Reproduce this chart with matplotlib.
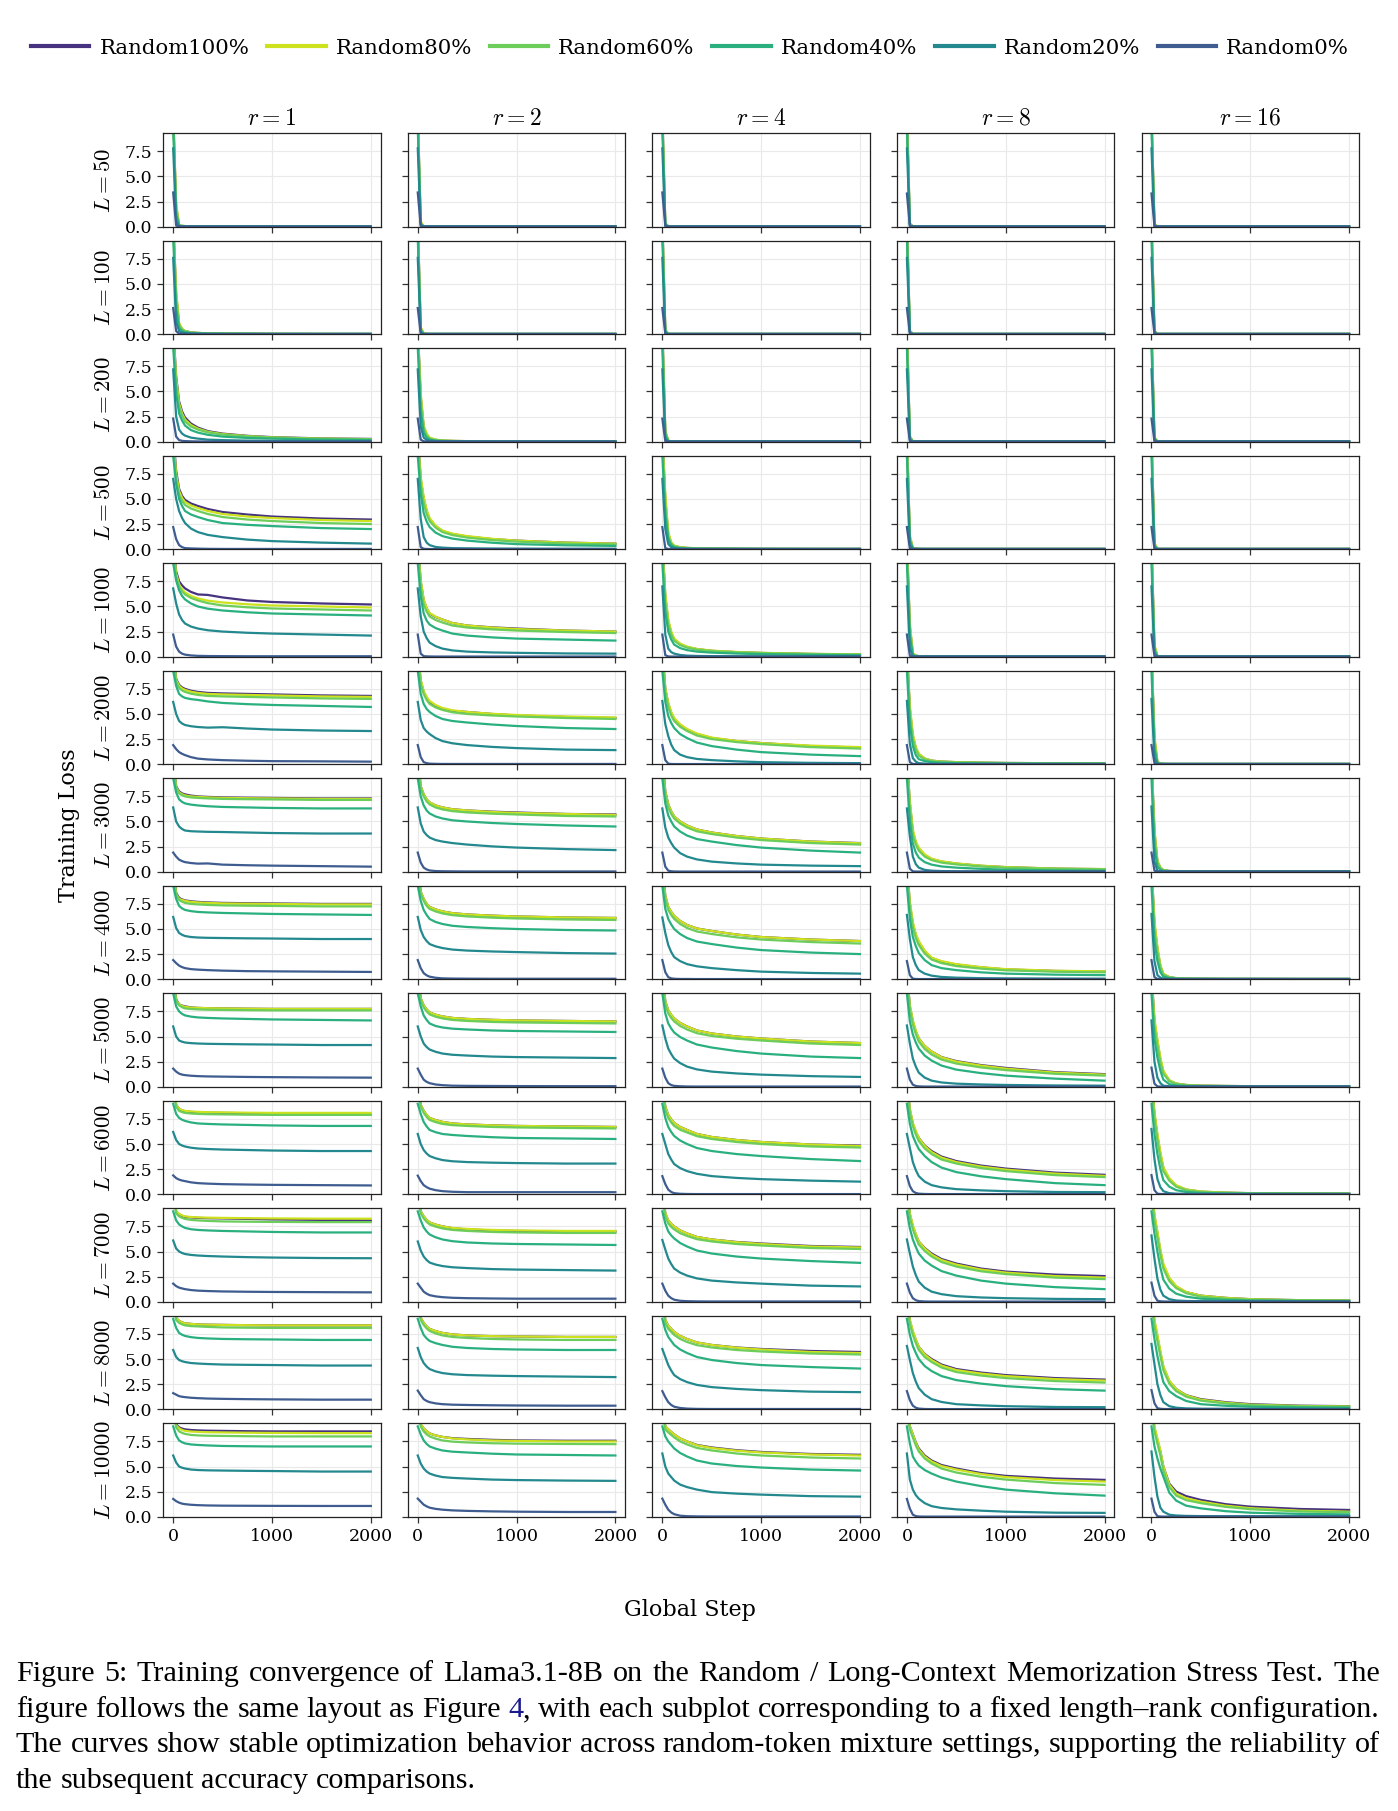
import matplotlib
matplotlib.use("Agg")
import matplotlib.pyplot as plt
from matplotlib.lines import Line2D
from matplotlib.ticker import FormatStrFormatter
from matplotlib.font_manager import FontProperties

plt.rcParams["font.family"] = ["DejaVu Serif"]
plt.rcParams["mathtext.fontset"] = "cm"

STEPS = [0, 30, 60, 90, 120, 180, 250, 350, 500, 750, 1000, 1500, 2000]
LENGTHS = [50, 100, 200, 500, 1000, 2000, 3000, 4000, 5000, 6000, 7000, 8000, 10000]
RANKS = [1, 2, 4, 8, 16]
SERIES = ["Random100%", "Random80%", "Random60%", "Random40%", "Random20%", "Random0%"]
COLORS = ["#46327e", "#cde11d", "#6ccd5a", "#2ab07f", "#23898e", "#3e5c8f"]
X_TICKS = [0, 1000, 2000]
Y_TICKS = [0.0, 2.5, 5.0, 7.5]

# each series: 13 rows (L), each row 5 curves (r = 1, 2, 4, 8, 16), values at STEPS
LOSS_R100 = [
    [[11.5, 2.0, 0.1, 0.07, 0.05, 0.04, 0.03, 0.02, 0.02, 0.02, 0.02, 0.02, 0.02],
     [11.5, 0.4, 0.03, 0.02, 0.02, 0.02, 0.02, 0.02, 0.02, 0.02, 0.02, 0.02, 0.02],
     [11.5, 0.3, 0.03, 0.02, 0.02, 0.02, 0.02, 0.02, 0.02, 0.02, 0.02, 0.02, 0.02],
     [11.5, 0.3, 0.02, 0.02, 0.02, 0.02, 0.02, 0.02, 0.02, 0.02, 0.02, 0.02, 0.02],
     [11.5, 0.2, 0.02, 0.02, 0.02, 0.02, 0.02, 0.02, 0.02, 0.02, 0.02, 0.02, 0.02]],
    [[11.5, 4.0, 1.0, 0.5, 0.3, 0.18, 0.12, 0.08, 0.06, 0.04, 0.03, 0.02, 0.02],
     [11.5, 0.6, 0.05, 0.03, 0.02, 0.02, 0.02, 0.02, 0.02, 0.02, 0.02, 0.02, 0.02],
     [11.5, 0.4, 0.03, 0.02, 0.02, 0.02, 0.02, 0.02, 0.02, 0.02, 0.02, 0.02, 0.02],
     [11.5, 0.3, 0.02, 0.02, 0.02, 0.02, 0.02, 0.02, 0.02, 0.02, 0.02, 0.02, 0.02],
     [11.5, 0.3, 0.02, 0.02, 0.02, 0.02, 0.02, 0.02, 0.02, 0.02, 0.02, 0.02, 0.02]],
    [[11.5, 6.5, 4.0, 3.0, 2.4, 1.8, 1.4, 1.05, 0.8, 0.58, 0.45, 0.32, 0.27],
     [11.5, 4.5, 1.5, 0.7, 0.35, 0.18, 0.1, 0.07, 0.05, 0.04, 0.03, 0.02, 0.02],
     [11.5, 1.0, 0.08, 0.04, 0.03, 0.02, 0.02, 0.02, 0.02, 0.02, 0.02, 0.02, 0.02],
     [11.5, 0.5, 0.03, 0.02, 0.02, 0.02, 0.02, 0.02, 0.02, 0.02, 0.02, 0.02, 0.02],
     [11.5, 0.4, 0.02, 0.02, 0.02, 0.02, 0.02, 0.02, 0.02, 0.02, 0.02, 0.02, 0.02]],
    [[11.5, 7.8, 6.0, 5.3, 4.9, 4.55, 4.3, 4.0, 3.7, 3.45, 3.25, 3.05, 2.95],
     [11.5, 7.0, 5.0, 3.8, 3.0, 2.3, 1.8, 1.5, 1.25, 1.0, 0.85, 0.65, 0.55],
     [11.5, 5.0, 1.5, 0.6, 0.3, 0.18, 0.12, 0.08, 0.06, 0.04, 0.03, 0.02, 0.02],
     [11.5, 1.2, 0.1, 0.05, 0.03, 0.02, 0.02, 0.02, 0.02, 0.02, 0.02, 0.02, 0.02],
     [11.5, 0.5, 0.03, 0.02, 0.02, 0.02, 0.02, 0.02, 0.02, 0.02, 0.02, 0.02, 0.02]],
    [[11.5, 8.5, 7.5, 7.1, 6.8, 6.45, 6.2, 6.15, 5.9, 5.6, 5.45, 5.3, 5.2],
     [11.5, 7.5, 5.6, 4.8, 4.3, 3.95, 3.7, 3.35, 3.1, 2.92, 2.8, 2.6, 2.5],
     [11.5, 6.0, 3.5, 2.4, 1.7, 1.25, 0.95, 0.75, 0.58, 0.45, 0.37, 0.27, 0.22],
     [11.5, 3.0, 0.3, 0.1, 0.05, 0.03, 0.03, 0.02, 0.02, 0.02, 0.02, 0.02, 0.02],
     [11.5, 1.0, 0.05, 0.03, 0.02, 0.02, 0.02, 0.02, 0.02, 0.02, 0.02, 0.02, 0.02]],
    [[11.5, 8.5, 7.9, 7.65, 7.5, 7.32, 7.2, 7.1, 7.05, 7.0, 6.95, 6.85, 6.8],
     [11.5, 8.3, 7.2, 6.6, 6.2, 5.8, 5.5, 5.3, 5.2, 5.0, 4.85, 4.7, 4.6],
     [11.5, 7.5, 6.0, 5.1, 4.5, 3.9, 3.45, 3.0, 2.6, 2.3, 2.1, 1.8, 1.65],
     [11.5, 5.5, 2.8, 1.6, 1.0, 0.55, 0.35, 0.26, 0.2, 0.15, 0.12, 0.09, 0.08],
     [11.5, 2.5, 0.2, 0.06, 0.03, 0.02, 0.02, 0.02, 0.02, 0.02, 0.02, 0.02, 0.02]],
    [[11.5, 8.5, 8.0, 7.8, 7.7, 7.58, 7.5, 7.45, 7.4, 7.37, 7.35, 7.3, 7.3],
     [11.5, 8.5, 7.7, 7.2, 6.9, 6.6, 6.4, 6.22, 6.1, 5.98, 5.9, 5.75, 5.7],
     [11.5, 8.0, 6.7, 6.0, 5.5, 5.0, 4.6, 4.2, 3.9, 3.55, 3.3, 3.0, 2.85],
     [11.5, 6.8, 4.0, 2.9, 2.3, 1.65, 1.25, 1.0, 0.8, 0.58, 0.45, 0.3, 0.25],
     [11.5, 4.0, 1.0, 0.4, 0.15, 0.07, 0.05, 0.04, 0.03, 0.02, 0.02, 0.02, 0.02]],
    [[11.5, 8.6, 8.1, 7.95, 7.85, 7.76, 7.7, 7.65, 7.6, 7.57, 7.55, 7.5, 7.5],
     [11.5, 8.7, 8.0, 7.5, 7.2, 6.95, 6.75, 6.58, 6.45, 6.33, 6.25, 6.15, 6.1],
     [11.5, 8.3, 7.2, 6.7, 6.3, 5.8, 5.4, 5.05, 4.8, 4.45, 4.2, 3.95, 3.8],
     [11.5, 7.5, 5.5, 4.4, 3.7, 2.8, 2.1, 1.75, 1.45, 1.17, 0.97, 0.82, 0.76],
     [11.5, 5.5, 3.0, 1.3, 0.5, 0.2, 0.1, 0.06, 0.04, 0.03, 0.03, 0.02, 0.02]],
    [[11.5, 8.7, 8.2, 8.08, 8.0, 7.9, 7.85, 7.82, 7.8, 7.77, 7.75, 7.75, 7.75],
     [11.5, 8.8, 8.1, 7.7, 7.4, 7.17, 7.0, 6.85, 6.75, 6.66, 6.6, 6.55, 6.5],
     [11.5, 8.5, 7.6, 7.15, 6.8, 6.35, 6.0, 5.6, 5.3, 5.0, 4.8, 4.5, 4.35],
     [11.5, 8.0, 6.5, 5.5, 4.8, 4.05, 3.5, 2.95, 2.55, 2.15, 1.87, 1.45, 1.25],
     [11.5, 6.5, 4.5, 2.7, 1.5, 0.6, 0.3, 0.17, 0.1, 0.07, 0.05, 0.04, 0.04]],
    [[11.5, 8.9, 8.5, 8.35, 8.25, 8.2, 8.15, 8.12, 8.1, 8.07, 8.05, 8.0, 8.0],
     [11.5, 8.9, 8.3, 7.9, 7.6, 7.38, 7.2, 7.05, 6.95, 6.86, 6.8, 6.75, 6.7],
     [11.5, 8.7, 7.9, 7.45, 7.1, 6.7, 6.4, 6.0, 5.7, 5.4, 5.2, 4.95, 4.85],
     [11.5, 8.4, 7.0, 6.2, 5.6, 4.85, 4.3, 3.75, 3.3, 2.85, 2.55, 2.15, 1.93],
     [11.5, 8.0, 5.8, 4.0, 2.6, 1.5, 0.85, 0.45, 0.25, 0.15, 0.1, 0.07, 0.06]],
    [[11.5, 9.0, 8.7, 8.55, 8.45, 8.4, 8.35, 8.32, 8.3, 8.25, 8.2, 8.15, 8.1],
     [11.5, 9.0, 8.5, 8.15, 7.9, 7.68, 7.5, 7.33, 7.2, 7.1, 7.05, 7.0, 7.0],
     [11.5, 8.8, 8.1, 7.75, 7.5, 7.1, 6.8, 6.45, 6.2, 5.95, 5.8, 5.55, 5.45],
     [11.5, 8.7, 7.5, 6.7, 6.0, 5.35, 4.8, 4.25, 3.8, 3.3, 3.0, 2.7, 2.55],
     [11.5, 8.5, 6.8, 5.0, 3.6, 2.3, 1.5, 0.95, 0.6, 0.38, 0.25, 0.15, 0.12]],
    [[11.5, 9.1, 8.8, 8.65, 8.55, 8.5, 8.45, 8.42, 8.4, 8.37, 8.35, 8.35, 8.35],
     [11.5, 9.1, 8.6, 8.25, 8.0, 7.78, 7.6, 7.45, 7.35, 7.28, 7.25, 7.2, 7.2],
     [11.5, 8.9, 8.3, 8.0, 7.7, 7.3, 7.0, 6.65, 6.4, 6.15, 6.0, 5.8, 5.7],
     [11.5, 8.8, 7.7, 6.9, 6.2, 5.5, 5.0, 4.45, 4.0, 3.65, 3.4, 3.1, 2.95],
     [11.5, 8.7, 7.2, 5.6, 4.2, 2.8, 2.0, 1.4, 1.0, 0.7, 0.5, 0.35, 0.3]],
    [[11.5, 9.2, 8.9, 8.78, 8.7, 8.64, 8.6, 8.57, 8.55, 8.52, 8.5, 8.5, 8.5],
     [11.5, 9.2, 8.8, 8.52, 8.3, 8.1, 7.95, 7.83, 7.75, 7.66, 7.6, 7.57, 7.57],
     [11.5, 9.0, 8.7, 8.45, 8.2, 7.8, 7.5, 7.15, 6.9, 6.63, 6.45, 6.25, 6.17],
     [11.5, 9.0, 8.2, 7.4, 6.8, 6.1, 5.6, 5.15, 4.8, 4.35, 4.07, 3.8, 3.67],
     [11.5, 8.8, 7.6, 6.5, 5.0, 3.3, 2.5, 2.05, 1.67, 1.25, 1.0, 0.77, 0.67]],
]

LOSS_R80 = [
    [[11.2, 2.3, 0.12, 0.08, 0.05, 0.04, 0.03, 0.02, 0.02, 0.02, 0.02, 0.02, 0.02],
     [11.2, 0.5, 0.03, 0.02, 0.02, 0.02, 0.02, 0.02, 0.02, 0.02, 0.02, 0.02, 0.02],
     [11.2, 0.35, 0.03, 0.02, 0.02, 0.02, 0.02, 0.02, 0.02, 0.02, 0.02, 0.02, 0.02],
     [11.2, 0.3, 0.02, 0.02, 0.02, 0.02, 0.02, 0.02, 0.02, 0.02, 0.02, 0.02, 0.02],
     [11.2, 0.25, 0.02, 0.02, 0.02, 0.02, 0.02, 0.02, 0.02, 0.02, 0.02, 0.02, 0.02]],
    [[11.2, 4.3, 1.1, 0.55, 0.3, 0.18, 0.12, 0.08, 0.06, 0.04, 0.03, 0.02, 0.02],
     [11.2, 0.7, 0.05, 0.03, 0.02, 0.02, 0.02, 0.02, 0.02, 0.02, 0.02, 0.02, 0.02],
     [11.2, 0.45, 0.03, 0.02, 0.02, 0.02, 0.02, 0.02, 0.02, 0.02, 0.02, 0.02, 0.02],
     [11.2, 0.35, 0.02, 0.02, 0.02, 0.02, 0.02, 0.02, 0.02, 0.02, 0.02, 0.02, 0.02],
     [11.2, 0.3, 0.02, 0.02, 0.02, 0.02, 0.02, 0.02, 0.02, 0.02, 0.02, 0.02, 0.02]],
    [[11.2, 6.3, 3.8, 2.8, 2.2, 1.65, 1.3, 0.98, 0.75, 0.55, 0.42, 0.3, 0.25],
     [11.2, 4.8, 1.6, 0.8, 0.4, 0.2, 0.12, 0.08, 0.05, 0.04, 0.03, 0.02, 0.02],
     [11.2, 1.1, 0.09, 0.04, 0.03, 0.02, 0.02, 0.02, 0.02, 0.02, 0.02, 0.02, 0.02],
     [11.2, 0.55, 0.03, 0.02, 0.02, 0.02, 0.02, 0.02, 0.02, 0.02, 0.02, 0.02, 0.02],
     [11.2, 0.45, 0.02, 0.02, 0.02, 0.02, 0.02, 0.02, 0.02, 0.02, 0.02, 0.02, 0.02]],
    [[11.2, 7.5, 5.8, 5.1, 4.7, 4.35, 4.1, 3.8, 3.5, 3.25, 3.1, 2.9, 2.8],
     [11.2, 7.2, 5.2, 3.9, 3.1, 2.35, 1.85, 1.55, 1.3, 1.03, 0.85, 0.65, 0.55],
     [11.2, 5.5, 1.7, 0.7, 0.35, 0.2, 0.13, 0.09, 0.06, 0.04, 0.03, 0.02, 0.02],
     [11.2, 1.4, 0.12, 0.05, 0.03, 0.02, 0.02, 0.02, 0.02, 0.02, 0.02, 0.02, 0.02],
     [11.2, 0.6, 0.03, 0.02, 0.02, 0.02, 0.02, 0.02, 0.02, 0.02, 0.02, 0.02, 0.02]],
    [[11.2, 8.3, 7.2, 6.7, 6.4, 6.05, 5.8, 5.58, 5.4, 5.22, 5.1, 5.0, 4.9],
     [11.2, 7.6, 5.7, 4.85, 4.35, 3.98, 3.7, 3.35, 3.1, 2.9, 2.75, 2.6, 2.5],
     [11.2, 6.3, 3.7, 2.5, 1.8, 1.3, 1.0, 0.77, 0.6, 0.47, 0.38, 0.28, 0.23],
     [11.2, 3.3, 0.35, 0.1, 0.05, 0.03, 0.03, 0.02, 0.02, 0.02, 0.02, 0.02, 0.02],
     [11.2, 1.2, 0.06, 0.03, 0.02, 0.02, 0.02, 0.02, 0.02, 0.02, 0.02, 0.02, 0.02]],
    [[11.2, 8.4, 7.8, 7.55, 7.4, 7.22, 7.1, 7.0, 6.95, 6.9, 6.85, 6.75, 6.7],
     [11.2, 8.4, 7.3, 6.7, 6.3, 5.9, 5.6, 5.37, 5.2, 5.02, 4.9, 4.75, 4.65],
     [11.2, 7.6, 6.1, 5.2, 4.6, 3.98, 3.5, 3.05, 2.65, 2.32, 2.1, 1.85, 1.7],
     [11.2, 5.8, 3.0, 1.7, 1.05, 0.57, 0.35, 0.26, 0.2, 0.15, 0.12, 0.09, 0.08],
     [11.2, 2.8, 0.25, 0.07, 0.03, 0.02, 0.02, 0.02, 0.02, 0.02, 0.02, 0.02, 0.02]],
    [[11.2, 8.4, 7.9, 7.72, 7.6, 7.5, 7.45, 7.4, 7.35, 7.32, 7.3, 7.25, 7.25],
     [11.2, 8.5, 7.7, 7.2, 6.9, 6.6, 6.4, 6.22, 6.1, 5.95, 5.85, 5.75, 5.65],
     [11.2, 8.0, 6.7, 6.0, 5.5, 5.0, 4.6, 4.2, 3.9, 3.55, 3.3, 3.0, 2.83],
     [11.2, 7.0, 4.2, 3.0, 2.4, 1.72, 1.3, 1.03, 0.82, 0.6, 0.46, 0.31, 0.26],
     [11.2, 4.2, 1.1, 0.42, 0.15, 0.07, 0.05, 0.04, 0.03, 0.02, 0.02, 0.02, 0.02]],
    [[11.2, 8.5, 8.0, 7.9, 7.8, 7.7, 7.65, 7.6, 7.55, 7.52, 7.5, 7.45, 7.45],
     [11.2, 8.7, 8.0, 7.5, 7.2, 6.95, 6.75, 6.58, 6.45, 6.33, 6.25, 6.15, 6.1],
     [11.2, 8.3, 7.2, 6.7, 6.3, 5.8, 5.4, 5.05, 4.8, 4.45, 4.2, 3.95, 3.8],
     [11.2, 7.7, 5.7, 4.5, 3.8, 2.85, 2.15, 1.8, 1.5, 1.2, 1.0, 0.84, 0.78],
     [11.2, 5.8, 3.2, 1.4, 0.55, 0.2, 0.1, 0.06, 0.04, 0.03, 0.03, 0.02, 0.02]],
    [[11.2, 8.6, 8.2, 8.05, 7.95, 7.88, 7.85, 7.82, 7.8, 7.77, 7.75, 7.75, 7.75],
     [11.2, 8.8, 8.1, 7.7, 7.4, 7.17, 7.0, 6.85, 6.75, 6.66, 6.6, 6.55, 6.5],
     [11.2, 8.5, 7.6, 7.15, 6.8, 6.35, 6.0, 5.6, 5.3, 5.0, 4.8, 4.5, 4.35],
     [11.2, 8.1, 6.6, 5.6, 4.8, 4.05, 3.5, 2.93, 2.5, 2.1, 1.8, 1.4, 1.2],
     [11.2, 6.8, 4.7, 2.9, 1.6, 0.65, 0.32, 0.17, 0.1, 0.07, 0.05, 0.04, 0.04]],
    [[11.2, 8.9, 8.5, 8.38, 8.3, 8.24, 8.2, 8.17, 8.15, 8.12, 8.1, 8.1, 8.1],
     [11.2, 8.9, 8.3, 7.9, 7.6, 7.38, 7.2, 7.05, 6.95, 6.86, 6.8, 6.75, 6.7],
     [11.2, 8.7, 7.9, 7.45, 7.1, 6.7, 6.4, 6.0, 5.7, 5.4, 5.2, 4.95, 4.8],
     [11.2, 8.5, 7.1, 6.3, 5.6, 4.8, 4.2, 3.65, 3.2, 2.75, 2.45, 2.05, 1.82],
     [11.2, 8.2, 6.0, 4.2, 2.7, 1.6, 0.9, 0.48, 0.27, 0.16, 0.1, 0.07, 0.06]],
    [[11.2, 9.0, 8.75, 8.6, 8.5, 8.44, 8.4, 8.37, 8.35, 8.32, 8.3, 8.27, 8.27],
     [11.2, 9.0, 8.5, 8.15, 7.9, 7.68, 7.5, 7.35, 7.25, 7.15, 7.1, 7.05, 7.05],
     [11.2, 8.8, 8.1, 7.75, 7.5, 7.1, 6.8, 6.45, 6.2, 5.93, 5.75, 5.5, 5.4],
     [11.2, 8.8, 7.6, 6.75, 6.0, 5.3, 4.7, 4.15, 3.7, 3.2, 2.9, 2.55, 2.4],
     [11.2, 8.7, 7.0, 5.2, 3.8, 2.4, 1.55, 0.97, 0.6, 0.38, 0.25, 0.15, 0.12]],
    [[11.2, 9.1, 8.8, 8.65, 8.55, 8.5, 8.45, 8.42, 8.4, 8.37, 8.35, 8.35, 8.35],
     [11.2, 9.1, 8.6, 8.25, 8.0, 7.78, 7.6, 7.45, 7.35, 7.28, 7.25, 7.2, 7.2],
     [11.2, 8.9, 8.3, 8.0, 7.7, 7.3, 7.0, 6.65, 6.4, 6.13, 5.95, 5.7, 5.6],
     [11.2, 8.9, 7.8, 6.95, 6.2, 5.45, 4.9, 4.35, 3.9, 3.55, 3.3, 3.0, 2.85],
     [11.2, 8.9, 7.4, 5.8, 4.3, 2.85, 2.0, 1.38, 0.95, 0.65, 0.45, 0.32, 0.27]],
    [[11.2, 9.1, 8.8, 8.65, 8.55, 8.49, 8.45, 8.42, 8.4, 8.37, 8.35, 8.33, 8.33],
     [11.2, 9.2, 8.8, 8.52, 8.3, 8.1, 7.95, 7.8, 7.7, 7.6, 7.55, 7.5, 7.5],
     [11.2, 9.0, 8.7, 8.45, 8.2, 7.8, 7.5, 7.12, 6.85, 6.58, 6.4, 6.2, 6.1],
     [11.2, 9.0, 8.2, 7.35, 6.7, 6.0, 5.5, 5.05, 4.7, 4.25, 3.95, 3.65, 3.5],
     [11.2, 9.0, 7.8, 6.6, 5.0, 3.2, 2.3, 1.85, 1.5, 1.1, 0.85, 0.6, 0.5]],
]

LOSS_R60 = [
    [[10.8, 1.8, 0.1, 0.07, 0.05, 0.04, 0.03, 0.02, 0.02, 0.02, 0.02, 0.02, 0.02],
     [10.8, 0.35, 0.03, 0.02, 0.02, 0.02, 0.02, 0.02, 0.02, 0.02, 0.02, 0.02, 0.02],
     [10.8, 0.3, 0.02, 0.02, 0.02, 0.02, 0.02, 0.02, 0.02, 0.02, 0.02, 0.02, 0.02],
     [10.8, 0.25, 0.02, 0.02, 0.02, 0.02, 0.02, 0.02, 0.02, 0.02, 0.02, 0.02, 0.02],
     [10.8, 0.2, 0.02, 0.02, 0.02, 0.02, 0.02, 0.02, 0.02, 0.02, 0.02, 0.02, 0.02]],
    [[10.8, 3.5, 0.9, 0.45, 0.25, 0.15, 0.1, 0.07, 0.05, 0.04, 0.03, 0.02, 0.02],
     [10.8, 0.5, 0.04, 0.03, 0.02, 0.02, 0.02, 0.02, 0.02, 0.02, 0.02, 0.02, 0.02],
     [10.8, 0.35, 0.03, 0.02, 0.02, 0.02, 0.02, 0.02, 0.02, 0.02, 0.02, 0.02, 0.02],
     [10.8, 0.3, 0.02, 0.02, 0.02, 0.02, 0.02, 0.02, 0.02, 0.02, 0.02, 0.02, 0.02],
     [10.8, 0.25, 0.02, 0.02, 0.02, 0.02, 0.02, 0.02, 0.02, 0.02, 0.02, 0.02, 0.02]],
    [[10.8, 5.8, 3.5, 2.6, 2.0, 1.5, 1.2, 0.92, 0.7, 0.52, 0.4, 0.28, 0.23],
     [10.8, 4.0, 1.3, 0.6, 0.3, 0.15, 0.1, 0.06, 0.04, 0.03, 0.02, 0.02, 0.02],
     [10.8, 0.9, 0.07, 0.04, 0.03, 0.02, 0.02, 0.02, 0.02, 0.02, 0.02, 0.02, 0.02],
     [10.8, 0.45, 0.03, 0.02, 0.02, 0.02, 0.02, 0.02, 0.02, 0.02, 0.02, 0.02, 0.02],
     [10.8, 0.35, 0.02, 0.02, 0.02, 0.02, 0.02, 0.02, 0.02, 0.02, 0.02, 0.02, 0.02]],
    [[10.8, 7.0, 5.4, 4.8, 4.4, 4.05, 3.8, 3.5, 3.2, 2.95, 2.8, 2.6, 2.5],
     [10.8, 6.5, 4.6, 3.5, 2.8, 2.15, 1.7, 1.4, 1.15, 0.9, 0.75, 0.55, 0.47],
     [10.8, 4.5, 1.3, 0.55, 0.3, 0.15, 0.1, 0.07, 0.05, 0.04, 0.03, 0.02, 0.02],
     [10.8, 1.1, 0.1, 0.05, 0.03, 0.02, 0.02, 0.02, 0.02, 0.02, 0.02, 0.02, 0.02],
     [10.8, 0.45, 0.03, 0.02, 0.02, 0.02, 0.02, 0.02, 0.02, 0.02, 0.02, 0.02, 0.02]],
    [[10.8, 8.0, 7.0, 6.5, 6.2, 5.85, 5.6, 5.33, 5.1, 4.92, 4.8, 4.7, 4.6],
     [10.8, 7.0, 5.2, 4.5, 4.0, 3.65, 3.4, 3.1, 2.9, 2.72, 2.6, 2.45, 2.35],
     [10.8, 5.5, 3.2, 2.2, 1.6, 1.15, 0.9, 0.7, 0.55, 0.43, 0.35, 0.26, 0.21],
     [10.8, 2.7, 0.25, 0.08, 0.05, 0.03, 0.03, 0.02, 0.02, 0.02, 0.02, 0.02, 0.02],
     [10.8, 0.9, 0.05, 0.03, 0.02, 0.02, 0.02, 0.02, 0.02, 0.02, 0.02, 0.02, 0.02]],
    [[10.8, 8.2, 7.6, 7.35, 7.2, 7.02, 6.9, 6.8, 6.75, 6.7, 6.65, 6.55, 6.5],
     [10.8, 8.0, 7.0, 6.4, 6.0, 5.65, 5.4, 5.17, 5.0, 4.85, 4.75, 4.6, 4.5],
     [10.8, 7.2, 5.7, 4.85, 4.3, 3.72, 3.3, 2.85, 2.5, 2.2, 2.0, 1.7, 1.55],
     [10.8, 5.0, 2.5, 1.45, 0.85, 0.48, 0.3, 0.22, 0.17, 0.13, 0.1, 0.08, 0.07],
     [10.8, 2.2, 0.15, 0.05, 0.03, 0.02, 0.02, 0.02, 0.02, 0.02, 0.02, 0.02, 0.02]],
    [[10.8, 8.3, 7.8, 7.62, 7.5, 7.4, 7.35, 7.3, 7.25, 7.22, 7.2, 7.15, 7.15],
     [10.8, 8.3, 7.5, 7.0, 6.7, 6.4, 6.2, 6.03, 5.9, 5.78, 5.7, 5.55, 5.5],
     [10.8, 7.7, 6.4, 5.75, 5.3, 4.8, 4.4, 4.02, 3.75, 3.4, 3.15, 2.85, 2.7],
     [10.8, 6.3, 3.7, 2.7, 2.1, 1.5, 1.15, 0.9, 0.72, 0.52, 0.4, 0.28, 0.23],
     [10.8, 3.5, 0.9, 0.35, 0.12, 0.06, 0.04, 0.03, 0.03, 0.02, 0.02, 0.02, 0.02]],
    [[10.8, 8.4, 7.9, 7.72, 7.6, 7.5, 7.45, 7.4, 7.35, 7.32, 7.3, 7.25, 7.25],
     [10.8, 8.5, 7.8, 7.3, 7.0, 6.75, 6.55, 6.38, 6.25, 6.13, 6.05, 5.95, 5.9],
     [10.8, 8.0, 6.9, 6.4, 6.0, 5.5, 5.1, 4.75, 4.5, 4.17, 3.95, 3.7, 3.55],
     [10.8, 7.2, 5.2, 4.1, 3.4, 2.55, 1.95, 1.6, 1.3, 1.05, 0.88, 0.74, 0.68],
     [10.8, 5.0, 2.7, 1.15, 0.45, 0.18, 0.09, 0.05, 0.04, 0.03, 0.03, 0.02, 0.02]],
    [[10.8, 8.5, 8.1, 7.92, 7.8, 7.74, 7.7, 7.67, 7.65, 7.62, 7.6, 7.6, 7.6],
     [10.8, 8.6, 7.9, 7.5, 7.2, 6.97, 6.8, 6.65, 6.55, 6.45, 6.4, 6.35, 6.3],
     [10.8, 8.2, 7.3, 6.85, 6.5, 6.05, 5.7, 5.33, 5.05, 4.78, 4.6, 4.3, 4.15],
     [10.8, 7.7, 6.2, 5.25, 4.5, 3.75, 3.2, 2.7, 2.3, 1.92, 1.65, 1.28, 1.1],
     [10.8, 6.0, 4.1, 2.4, 1.3, 0.55, 0.27, 0.15, 0.09, 0.06, 0.05, 0.04, 0.04]],
    [[10.8, 8.7, 8.3, 8.18, 8.1, 8.04, 8.0, 7.97, 7.95, 7.92, 7.9, 7.9, 7.9],
     [10.8, 8.7, 8.1, 7.7, 7.4, 7.18, 7.0, 6.88, 6.8, 6.7, 6.65, 6.6, 6.55],
     [10.8, 8.4, 7.6, 7.15, 6.8, 6.42, 6.15, 5.78, 5.5, 5.2, 5.0, 4.75, 4.65],
     [10.8, 8.1, 6.8, 5.95, 5.3, 4.55, 4.0, 3.45, 3.05, 2.6, 2.3, 1.9, 1.7],
     [10.8, 7.6, 5.4, 3.6, 2.3, 1.35, 0.75, 0.4, 0.22, 0.13, 0.09, 0.06, 0.05]],
    [[10.8, 8.8, 8.5, 8.35, 8.25, 8.15, 8.1, 8.05, 8.0, 7.97, 7.95, 7.93, 7.93],
     [10.8, 8.8, 8.3, 7.95, 7.7, 7.48, 7.3, 7.15, 7.05, 6.95, 6.9, 6.85, 6.85],
     [10.8, 8.5, 7.8, 7.45, 7.2, 6.82, 6.55, 6.23, 6.0, 5.75, 5.6, 5.35, 5.25],
     [10.8, 8.4, 7.2, 6.4, 5.7, 5.05, 4.5, 3.95, 3.5, 3.03, 2.75, 2.4, 2.25],
     [10.8, 8.1, 6.4, 4.7, 3.3, 2.05, 1.35, 0.85, 0.5, 0.3, 0.2, 0.13, 0.1]],
    [[10.8, 8.9, 8.6, 8.45, 8.35, 8.28, 8.25, 8.2, 8.15, 8.12, 8.1, 8.1, 8.1],
     [10.8, 8.9, 8.4, 8.05, 7.8, 7.55, 7.35, 7.2, 7.1, 7.0, 6.95, 6.9, 6.9],
     [10.8, 8.6, 8.0, 7.7, 7.4, 7.0, 6.7, 6.38, 6.15, 5.9, 5.75, 5.55, 5.45],
     [10.8, 8.5, 7.4, 6.6, 5.9, 5.2, 4.7, 4.15, 3.7, 3.35, 3.1, 2.8, 2.65],
     [10.8, 8.3, 6.8, 5.3, 3.9, 2.55, 1.8, 1.25, 0.85, 0.57, 0.4, 0.28, 0.24]],
    [[10.8, 8.9, 8.5, 8.35, 8.25, 8.15, 8.1, 8.07, 8.05, 8.02, 8.0, 8.0, 8.0],
     [10.8, 9.0, 8.5, 8.2, 8.0, 7.78, 7.6, 7.48, 7.4, 7.32, 7.28, 7.25, 7.23],
     [10.8, 8.7, 8.4, 8.15, 7.9, 7.5, 7.2, 6.85, 6.6, 6.3, 6.1, 5.9, 5.8],
     [10.8, 8.7, 7.9, 7.1, 6.5, 5.8, 5.3, 4.8, 4.4, 3.98, 3.7, 3.35, 3.17],
     [10.8, 8.5, 7.3, 6.1, 4.6, 2.95, 2.1, 1.65, 1.35, 0.98, 0.75, 0.52, 0.45]],
]

LOSS_R40 = [
    [[9.8, 1.2, 0.08, 0.05, 0.04, 0.03, 0.02, 0.02, 0.02, 0.02, 0.02, 0.02, 0.02],
     [9.8, 0.25, 0.02, 0.02, 0.02, 0.02, 0.02, 0.02, 0.02, 0.02, 0.02, 0.02, 0.02],
     [9.8, 0.2, 0.02, 0.02, 0.02, 0.02, 0.02, 0.02, 0.02, 0.02, 0.02, 0.02, 0.02],
     [9.8, 0.15, 0.02, 0.02, 0.02, 0.02, 0.02, 0.02, 0.02, 0.02, 0.02, 0.02, 0.02],
     [9.8, 0.1, 0.02, 0.02, 0.02, 0.02, 0.02, 0.02, 0.02, 0.02, 0.02, 0.02, 0.02]],
    [[9.6, 2.5, 0.6, 0.32, 0.2, 0.12, 0.08, 0.05, 0.04, 0.03, 0.02, 0.02, 0.02],
     [9.6, 0.35, 0.03, 0.02, 0.02, 0.02, 0.02, 0.02, 0.02, 0.02, 0.02, 0.02, 0.02],
     [9.6, 0.25, 0.02, 0.02, 0.02, 0.02, 0.02, 0.02, 0.02, 0.02, 0.02, 0.02, 0.02],
     [9.6, 0.2, 0.02, 0.02, 0.02, 0.02, 0.02, 0.02, 0.02, 0.02, 0.02, 0.02, 0.02],
     [9.6, 0.15, 0.02, 0.02, 0.02, 0.02, 0.02, 0.02, 0.02, 0.02, 0.02, 0.02, 0.02]],
    [[9.4, 4.8, 2.8, 2.1, 1.6, 1.15, 0.9, 0.68, 0.5, 0.37, 0.3, 0.2, 0.17],
     [9.4, 3.0, 0.9, 0.4, 0.2, 0.1, 0.06, 0.04, 0.03, 0.02, 0.02, 0.02, 0.02],
     [9.4, 0.6, 0.05, 0.03, 0.02, 0.02, 0.02, 0.02, 0.02, 0.02, 0.02, 0.02, 0.02],
     [9.4, 0.3, 0.02, 0.02, 0.02, 0.02, 0.02, 0.02, 0.02, 0.02, 0.02, 0.02, 0.02],
     [9.4, 0.25, 0.02, 0.02, 0.02, 0.02, 0.02, 0.02, 0.02, 0.02, 0.02, 0.02, 0.02]],
    [[9.3, 6.5, 5.0, 4.3, 3.8, 3.45, 3.2, 2.9, 2.6, 2.42, 2.3, 2.1, 2.0],
     [9.3, 5.5, 3.6, 2.75, 2.2, 1.65, 1.3, 1.05, 0.85, 0.64, 0.5, 0.38, 0.32],
     [9.3, 3.5, 1.0, 0.4, 0.2, 0.1, 0.07, 0.05, 0.04, 0.03, 0.02, 0.02, 0.02],
     [9.3, 0.8, 0.06, 0.03, 0.02, 0.02, 0.02, 0.02, 0.02, 0.02, 0.02, 0.02, 0.02],
     [9.3, 0.3, 0.02, 0.02, 0.02, 0.02, 0.02, 0.02, 0.02, 0.02, 0.02, 0.02, 0.02]],
    [[9.3, 7.6, 6.6, 6.05, 5.7, 5.3, 5.0, 4.78, 4.6, 4.42, 4.3, 4.2, 4.1],
     [9.3, 6.0, 4.3, 3.6, 3.2, 2.85, 2.6, 2.3, 2.1, 1.92, 1.8, 1.7, 1.6],
     [9.3, 4.5, 2.5, 1.7, 1.2, 0.85, 0.65, 0.5, 0.4, 0.31, 0.25, 0.18, 0.15],
     [9.3, 2.0, 0.15, 0.05, 0.03, 0.02, 0.02, 0.02, 0.02, 0.02, 0.02, 0.02, 0.02],
     [9.3, 0.6, 0.03, 0.02, 0.02, 0.02, 0.02, 0.02, 0.02, 0.02, 0.02, 0.02, 0.02]],
    [[9.3, 7.8, 7.0, 6.75, 6.6, 6.48, 6.4, 6.25, 6.1, 5.98, 5.9, 5.8, 5.7],
     [9.3, 7.0, 6.0, 5.5, 5.2, 4.8, 4.5, 4.3, 4.15, 3.95, 3.8, 3.6, 3.5],
     [9.3, 6.2, 4.8, 4.1, 3.6, 3.0, 2.6, 2.15, 1.8, 1.45, 1.2, 0.95, 0.8],
     [9.3, 4.0, 1.8, 0.9, 0.5, 0.3, 0.2, 0.13, 0.1, 0.08, 0.06, 0.05, 0.04],
     [9.3, 1.5, 0.1, 0.04, 0.02, 0.02, 0.02, 0.02, 0.02, 0.02, 0.02, 0.02, 0.02]],
    [[9.3, 7.9, 7.2, 6.95, 6.8, 6.68, 6.6, 6.52, 6.45, 6.4, 6.35, 6.3, 6.3],
     [9.3, 7.5, 6.6, 6.1, 5.8, 5.5, 5.3, 5.12, 5.0, 4.85, 4.75, 4.6, 4.5],
     [9.3, 6.8, 5.6, 5.0, 4.5, 4.0, 3.6, 3.25, 3.0, 2.65, 2.4, 2.1, 1.9],
     [9.3, 5.0, 2.8, 1.9, 1.4, 0.95, 0.7, 0.52, 0.4, 0.28, 0.2, 0.13, 0.1],
     [9.3, 2.5, 0.5, 0.2, 0.08, 0.04, 0.03, 0.02, 0.02, 0.02, 0.02, 0.02, 0.02]],
    [[9.3, 8.0, 7.3, 7.05, 6.9, 6.78, 6.7, 6.65, 6.6, 6.55, 6.5, 6.45, 6.4],
     [9.3, 7.8, 6.9, 6.4, 6.0, 5.7, 5.5, 5.32, 5.2, 5.08, 5.0, 4.9, 4.85],
     [9.3, 7.0, 6.0, 5.45, 5.0, 4.5, 4.1, 3.75, 3.5, 3.15, 2.9, 2.65, 2.5],
     [9.3, 6.0, 4.2, 3.3, 2.6, 1.9, 1.4, 1.1, 0.9, 0.68, 0.55, 0.45, 0.4],
     [9.3, 3.8, 1.8, 0.7, 0.25, 0.1, 0.05, 0.03, 0.03, 0.02, 0.02, 0.02, 0.02]],
    [[9.3, 8.0, 7.5, 7.25, 7.1, 6.98, 6.9, 6.85, 6.8, 6.75, 6.7, 6.65, 6.6],
     [9.3, 8.0, 7.1, 6.65, 6.3, 6.05, 5.9, 5.78, 5.7, 5.6, 5.55, 5.5, 5.45],
     [9.3, 7.3, 6.3, 5.8, 5.4, 4.95, 4.6, 4.2, 3.9, 3.55, 3.3, 3.0, 2.85],
     [9.3, 6.5, 5.2, 4.4, 3.8, 3.1, 2.6, 2.1, 1.7, 1.35, 1.1, 0.8, 0.6],
     [9.3, 4.8, 2.9, 1.6, 0.7, 0.25, 0.12, 0.07, 0.05, 0.04, 0.03, 0.02, 0.02]],
    [[9.0, 8.0, 7.6, 7.42, 7.3, 7.15, 7.05, 7.0, 6.95, 6.9, 6.85, 6.8, 6.8],
     [9.0, 8.0, 7.2, 6.75, 6.4, 6.18, 6.0, 5.9, 5.8, 5.68, 5.6, 5.55, 5.5],
     [9.0, 7.6, 6.7, 6.2, 5.8, 5.35, 5.0, 4.6, 4.3, 4.0, 3.8, 3.5, 3.3],
     [9.0, 7.0, 5.8, 5.1, 4.5, 3.8, 3.2, 2.65, 2.2, 1.78, 1.5, 1.1, 0.9],
     [9.0, 6.0, 4.0, 2.5, 1.4, 0.75, 0.4, 0.22, 0.12, 0.07, 0.05, 0.04, 0.03]],
    [[9.0, 8.1, 7.7, 7.5, 7.35, 7.22, 7.15, 7.1, 7.05, 7.0, 6.95, 6.9, 6.9],
     [9.0, 8.1, 7.4, 7.0, 6.7, 6.42, 6.2, 6.03, 5.9, 5.8, 5.75, 5.7, 5.65],
     [9.0, 7.8, 7.0, 6.6, 6.3, 5.85, 5.5, 5.1, 4.8, 4.5, 4.3, 4.05, 3.87],
     [9.0, 7.3, 6.2, 5.45, 4.8, 4.1, 3.6, 3.05, 2.6, 2.1, 1.8, 1.45, 1.25],
     [9.0, 6.8, 5.0, 3.4, 2.2, 1.3, 0.8, 0.5, 0.3, 0.18, 0.12, 0.08, 0.07]],
    [[9.0, 8.1, 7.6, 7.42, 7.3, 7.18, 7.1, 7.05, 7.0, 6.97, 6.95, 6.9, 6.9],
     [9.0, 8.1, 7.4, 7.05, 6.8, 6.58, 6.4, 6.22, 6.1, 6.0, 5.95, 5.9, 5.9],
     [9.0, 7.9, 7.2, 6.8, 6.4, 5.95, 5.6, 5.2, 4.9, 4.6, 4.4, 4.2, 4.05],
     [9.0, 7.4, 6.3, 5.6, 5.0, 4.3, 3.8, 3.3, 2.9, 2.55, 2.3, 2.0, 1.85],
     [9.0, 7.0, 5.3, 3.9, 2.7, 1.8, 1.3, 0.82, 0.5, 0.34, 0.25, 0.18, 0.15]],
    [[9.0, 8.1, 7.6, 7.42, 7.3, 7.2, 7.15, 7.1, 7.05, 7.02, 7.0, 7.0, 7.0],
     [9.0, 8.2, 7.6, 7.25, 7.0, 6.78, 6.6, 6.48, 6.4, 6.28, 6.2, 6.15, 6.1],
     [9.0, 8.0, 7.5, 7.15, 6.8, 6.35, 6.0, 5.6, 5.3, 5.05, 4.9, 4.7, 4.6],
     [9.0, 7.3, 6.0, 5.5, 5.1, 4.65, 4.3, 3.9, 3.5, 3.05, 2.7, 2.33, 2.1],
     [9.0, 7.0, 5.8, 4.8, 4.0, 2.4, 1.6, 1.1, 0.83, 0.55, 0.4, 0.28, 0.23]],
]

LOSS_R20 = [
    [[7.8, 0.6, 0.05, 0.04, 0.03, 0.02, 0.02, 0.02, 0.02, 0.02, 0.02, 0.02, 0.02],
     [7.8, 0.1, 0.02, 0.02, 0.02, 0.02, 0.02, 0.02, 0.02, 0.02, 0.02, 0.02, 0.02],
     [7.8, 0.1, 0.02, 0.02, 0.02, 0.02, 0.02, 0.02, 0.02, 0.02, 0.02, 0.02, 0.02],
     [7.8, 0.08, 0.02, 0.02, 0.02, 0.02, 0.02, 0.02, 0.02, 0.02, 0.02, 0.02, 0.02],
     [7.8, 0.06, 0.02, 0.02, 0.02, 0.02, 0.02, 0.02, 0.02, 0.02, 0.02, 0.02, 0.02]],
    [[7.6, 1.2, 0.3, 0.15, 0.1, 0.06, 0.04, 0.03, 0.02, 0.02, 0.02, 0.02, 0.02],
     [7.6, 0.15, 0.02, 0.02, 0.02, 0.02, 0.02, 0.02, 0.02, 0.02, 0.02, 0.02, 0.02],
     [7.6, 0.12, 0.02, 0.02, 0.02, 0.02, 0.02, 0.02, 0.02, 0.02, 0.02, 0.02, 0.02],
     [7.6, 0.1, 0.02, 0.02, 0.02, 0.02, 0.02, 0.02, 0.02, 0.02, 0.02, 0.02, 0.02],
     [7.6, 0.08, 0.02, 0.02, 0.02, 0.02, 0.02, 0.02, 0.02, 0.02, 0.02, 0.02, 0.02]],
    [[7.2, 2.5, 1.2, 0.8, 0.6, 0.4, 0.3, 0.2, 0.15, 0.1, 0.08, 0.06, 0.05],
     [7.2, 1.5, 0.4, 0.18, 0.1, 0.05, 0.03, 0.02, 0.02, 0.01, 0.01, 0.01, 0.01],
     [7.2, 0.3, 0.03, 0.02, 0.02, 0.02, 0.02, 0.02, 0.02, 0.02, 0.02, 0.02, 0.02],
     [7.2, 0.15, 0.02, 0.02, 0.02, 0.02, 0.02, 0.02, 0.02, 0.02, 0.02, 0.02, 0.02],
     [7.2, 0.12, 0.02, 0.02, 0.02, 0.02, 0.02, 0.02, 0.02, 0.02, 0.02, 0.02, 0.02]],
    [[7.0, 5.0, 3.8, 3.1, 2.6, 2.05, 1.7, 1.42, 1.2, 0.95, 0.8, 0.65, 0.55],
     [7.0, 3.0, 1.2, 0.65, 0.4, 0.22, 0.15, 0.1, 0.08, 0.06, 0.05, 0.04, 0.04],
     [7.0, 2.0, 0.5, 0.2, 0.1, 0.05, 0.03, 0.02, 0.02, 0.02, 0.02, 0.02, 0.02],
     [7.0, 0.4, 0.03, 0.02, 0.02, 0.02, 0.02, 0.02, 0.02, 0.02, 0.02, 0.02, 0.02],
     [7.0, 0.15, 0.02, 0.02, 0.02, 0.02, 0.02, 0.02, 0.02, 0.02, 0.02, 0.02, 0.02]],
    [[6.8, 5.3, 4.2, 3.65, 3.3, 3.0, 2.8, 2.63, 2.5, 2.38, 2.3, 2.2, 2.1],
     [6.8, 4.0, 2.5, 1.85, 1.4, 1.05, 0.8, 0.62, 0.5, 0.42, 0.38, 0.32, 0.3],
     [7.0, 2.2, 0.8, 0.45, 0.3, 0.17, 0.1, 0.07, 0.05, 0.04, 0.03, 0.03, 0.03],
     [7.0, 0.8, 0.05, 0.03, 0.02, 0.02, 0.02, 0.02, 0.02, 0.02, 0.02, 0.02, 0.02],
     [7.0, 0.3, 0.02, 0.02, 0.02, 0.02, 0.02, 0.02, 0.02, 0.02, 0.02, 0.02, 0.02]],
    [[6.2, 5.0, 4.3, 4.05, 3.9, 3.78, 3.7, 3.64, 3.68, 3.55, 3.45, 3.35, 3.3],
     [6.2, 4.4, 3.6, 3.25, 3.0, 2.6, 2.3, 2.08, 1.9, 1.72, 1.6, 1.45, 1.4],
     [6.3, 4.0, 2.8, 1.95, 1.4, 0.95, 0.7, 0.52, 0.4, 0.28, 0.2, 0.13, 0.1],
     [6.3, 2.0, 0.6, 0.25, 0.1, 0.05, 0.03, 0.02, 0.02, 0.02, 0.02, 0.02, 0.02],
     [6.5, 0.6, 0.03, 0.02, 0.02, 0.02, 0.02, 0.02, 0.02, 0.02, 0.02, 0.02, 0.02]],
    [[6.4, 5.0, 4.5, 4.25, 4.1, 4.03, 4.0, 3.97, 3.95, 3.9, 3.85, 3.8, 3.8],
     [6.4, 4.8, 4.0, 3.65, 3.4, 3.15, 3.0, 2.85, 2.7, 2.52, 2.4, 2.25, 2.15],
     [6.3, 4.4, 3.4, 2.85, 2.4, 1.85, 1.5, 1.22, 1.0, 0.82, 0.7, 0.6, 0.55],
     [6.3, 3.5, 1.5, 0.75, 0.4, 0.18, 0.1, 0.06, 0.04, 0.03, 0.03, 0.03, 0.03],
     [6.5, 1.0, 0.1, 0.04, 0.02, 0.02, 0.02, 0.02, 0.02, 0.02, 0.02, 0.02, 0.02]],
    [[6.2, 5.1, 4.6, 4.42, 4.3, 4.2, 4.15, 4.12, 4.1, 4.07, 4.05, 4.0, 4.0],
     [6.2, 4.9, 4.2, 3.8, 3.5, 3.27, 3.1, 2.95, 2.85, 2.76, 2.7, 2.6, 2.55],
     [6.15, 4.6, 3.4, 2.7, 2.2, 1.8, 1.5, 1.28, 1.1, 0.9, 0.75, 0.62, 0.55],
     [6.4, 4.0, 2.2, 1.4, 0.9, 0.55, 0.35, 0.22, 0.15, 0.1, 0.08, 0.06, 0.05],
     [6.5, 1.8, 0.4, 0.15, 0.05, 0.03, 0.02, 0.02, 0.02, 0.02, 0.02, 0.02, 0.02]],
    [[6.0, 5.0, 4.6, 4.48, 4.4, 4.34, 4.3, 4.27, 4.25, 4.22, 4.2, 4.15, 4.15],
     [6.0, 5.0, 4.3, 3.95, 3.7, 3.48, 3.3, 3.18, 3.1, 3.0, 2.95, 2.9, 2.85],
     [6.1, 4.8, 3.8, 3.25, 2.8, 2.35, 2.0, 1.72, 1.5, 1.32, 1.2, 1.05, 0.97],
     [6.1, 4.3, 2.8, 2.0, 1.4, 0.9, 0.6, 0.42, 0.3, 0.22, 0.17, 0.12, 0.1],
     [6.6, 2.5, 0.9, 0.35, 0.1, 0.04, 0.03, 0.02, 0.02, 0.02, 0.02, 0.02, 0.02]],
    [[6.2, 5.4, 5.0, 4.85, 4.75, 4.63, 4.55, 4.5, 4.45, 4.4, 4.35, 4.3, 4.3],
     [6.0, 5.0, 4.4, 4.05, 3.8, 3.58, 3.4, 3.28, 3.2, 3.14, 3.1, 3.05, 3.05],
     [6.0, 5.0, 4.0, 3.45, 3.0, 2.6, 2.3, 2.03, 1.8, 1.62, 1.5, 1.35, 1.25],
     [6.0, 4.6, 3.2, 2.4, 1.8, 1.25, 0.9, 0.68, 0.5, 0.38, 0.3, 0.22, 0.2],
     [6.5, 3.5, 1.5, 0.7, 0.3, 0.1, 0.05, 0.03, 0.02, 0.02, 0.02, 0.02, 0.02]],
    [[6.1, 5.3, 5.0, 4.85, 4.75, 4.66, 4.6, 4.55, 4.5, 4.44, 4.4, 4.35, 4.33],
     [6.0, 5.1, 4.5, 4.15, 3.9, 3.7, 3.55, 3.43, 3.35, 3.25, 3.2, 3.15, 3.1],
     [6.15, 5.2, 4.3, 3.75, 3.3, 2.9, 2.6, 2.32, 2.1, 1.92, 1.8, 1.6, 1.52],
     [6.2, 4.8, 3.5, 2.65, 2.0, 1.4, 1.0, 0.75, 0.55, 0.42, 0.35, 0.28, 0.25],
     [6.6, 4.3, 2.3, 1.2, 0.6, 0.25, 0.12, 0.07, 0.05, 0.04, 0.03, 0.03, 0.03]],
    [[5.9, 5.2, 4.9, 4.78, 4.7, 4.6, 4.55, 4.5, 4.45, 4.42, 4.4, 4.35, 4.35],
     [6.1, 5.2, 4.6, 4.25, 4.0, 3.77, 3.6, 3.48, 3.4, 3.34, 3.3, 3.25, 3.2],
     [6.0, 5.2, 4.4, 3.85, 3.4, 3.0, 2.7, 2.42, 2.2, 2.02, 1.9, 1.75, 1.7],
     [6.3, 4.9, 3.6, 2.75, 2.1, 1.45, 1.0, 0.72, 0.5, 0.38, 0.3, 0.22, 0.2],
     [6.5, 4.5, 2.5, 1.4, 0.7, 0.3, 0.15, 0.08, 0.05, 0.04, 0.04, 0.04, 0.04]],
    [[6.1, 5.4, 5.0, 4.88, 4.8, 4.7, 4.65, 4.62, 4.6, 4.57, 4.55, 4.5, 4.5],
     [6.1, 5.3, 4.8, 4.5, 4.3, 4.1, 3.95, 3.87, 3.8, 3.7, 3.65, 3.6, 3.57],
     [6.3, 5.0, 4.3, 3.95, 3.6, 3.2, 2.95, 2.7, 2.45, 2.3, 2.2, 2.05, 2.0],
     [6.3, 3.7, 2.7, 2.15, 1.8, 1.35, 1.05, 0.87, 0.73, 0.6, 0.5, 0.4, 0.38],
     [6.5, 4.0, 2.0, 0.9, 0.5, 0.2, 0.12, 0.08, 0.06, 0.05, 0.05, 0.05, 0.05]],
]

LOSS_R0 = [
    [[3.4, 0.1, 0.02, 0.01, 0.01, 0.01, 0.01, 0.01, 0.01, 0.01, 0.01, 0.01, 0.01],
     [3.4, 0.05, 0.01, 0.01, 0.01, 0.01, 0.01, 0.01, 0.01, 0.01, 0.01, 0.01, 0.01],
     [3.4, 0.05, 0.01, 0.01, 0.01, 0.01, 0.01, 0.01, 0.01, 0.01, 0.01, 0.01, 0.01],
     [3.3, 0.04, 0.01, 0.01, 0.01, 0.01, 0.01, 0.01, 0.01, 0.01, 0.01, 0.01, 0.01],
     [3.3, 0.03, 0.01, 0.01, 0.01, 0.01, 0.01, 0.01, 0.01, 0.01, 0.01, 0.01, 0.01]],
    [[2.6, 0.3, 0.05, 0.03, 0.02, 0.01, 0.01, 0.01, 0.01, 0.01, 0.01, 0.01, 0.01],
     [2.6, 0.05, 0.01, 0.01, 0.01, 0.01, 0.01, 0.01, 0.01, 0.01, 0.01, 0.01, 0.01],
     [2.6, 0.04, 0.01, 0.01, 0.01, 0.01, 0.01, 0.01, 0.01, 0.01, 0.01, 0.01, 0.01],
     [2.6, 0.03, 0.01, 0.01, 0.01, 0.01, 0.01, 0.01, 0.01, 0.01, 0.01, 0.01, 0.01],
     [2.6, 0.03, 0.01, 0.01, 0.01, 0.01, 0.01, 0.01, 0.01, 0.01, 0.01, 0.01, 0.01]],
    [[2.3, 0.5, 0.15, 0.08, 0.05, 0.03, 0.02, 0.01, 0.01, 0.01, 0.01, 0.01, 0.01],
     [2.3, 0.2, 0.03, 0.02, 0.01, 0.01, 0.01, 0.01, 0.01, 0.01, 0.01, 0.01, 0.01],
     [2.3, 0.05, 0.01, 0.01, 0.01, 0.01, 0.01, 0.01, 0.01, 0.01, 0.01, 0.01, 0.01],
     [2.3, 0.04, 0.01, 0.01, 0.01, 0.01, 0.01, 0.01, 0.01, 0.01, 0.01, 0.01, 0.01],
     [2.3, 0.03, 0.01, 0.01, 0.01, 0.01, 0.01, 0.01, 0.01, 0.01, 0.01, 0.01, 0.01]],
    [[2.2, 1.0, 0.4, 0.2, 0.1, 0.07, 0.05, 0.03, 0.02, 0.02, 0.02, 0.02, 0.02],
     [2.2, 0.2, 0.03, 0.02, 0.01, 0.01, 0.01, 0.01, 0.01, 0.01, 0.01, 0.01, 0.01],
     [2.2, 0.1, 0.02, 0.01, 0.01, 0.01, 0.01, 0.01, 0.01, 0.01, 0.01, 0.01, 0.01],
     [2.2, 0.05, 0.01, 0.01, 0.01, 0.01, 0.01, 0.01, 0.01, 0.01, 0.01, 0.01, 0.01],
     [2.2, 0.04, 0.01, 0.01, 0.01, 0.01, 0.01, 0.01, 0.01, 0.01, 0.01, 0.01, 0.01]],
    [[2.2, 1.0, 0.5, 0.3, 0.2, 0.12, 0.08, 0.06, 0.05, 0.04, 0.04, 0.04, 0.04],
     [2.2, 0.3, 0.05, 0.03, 0.02, 0.01, 0.01, 0.01, 0.01, 0.01, 0.01, 0.01, 0.01],
     [2.2, 0.15, 0.02, 0.01, 0.01, 0.01, 0.01, 0.01, 0.01, 0.01, 0.01, 0.01, 0.01],
     [2.2, 0.08, 0.01, 0.01, 0.01, 0.01, 0.01, 0.01, 0.01, 0.01, 0.01, 0.01, 0.01],
     [2.2, 0.05, 0.01, 0.01, 0.01, 0.01, 0.01, 0.01, 0.01, 0.01, 0.01, 0.01, 0.01]],
    [[1.9, 1.5, 1.2, 1.03, 0.9, 0.7, 0.55, 0.47, 0.4, 0.34, 0.3, 0.28, 0.25],
     [1.9, 0.7, 0.2, 0.1, 0.05, 0.03, 0.02, 0.02, 0.02, 0.02, 0.02, 0.02, 0.02],
     [1.9, 0.4, 0.05, 0.02, 0.01, 0.01, 0.01, 0.01, 0.01, 0.01, 0.01, 0.01, 0.01],
     [1.9, 0.2, 0.02, 0.01, 0.01, 0.01, 0.01, 0.01, 0.01, 0.01, 0.01, 0.01, 0.01],
     [1.9, 0.1, 0.01, 0.01, 0.01, 0.01, 0.01, 0.01, 0.01, 0.01, 0.01, 0.01, 0.01]],
    [[1.9, 1.5, 1.2, 1.05, 0.95, 0.86, 0.8, 0.82, 0.7, 0.64, 0.6, 0.55, 0.5],
     [1.9, 0.9, 0.4, 0.22, 0.12, 0.06, 0.04, 0.03, 0.02, 0.02, 0.02, 0.02, 0.02],
     [1.9, 0.5, 0.1, 0.04, 0.02, 0.01, 0.01, 0.01, 0.01, 0.01, 0.01, 0.01, 0.01],
     [1.9, 0.3, 0.03, 0.01, 0.01, 0.01, 0.01, 0.01, 0.01, 0.01, 0.01, 0.01, 0.01],
     [1.9, 0.1, 0.01, 0.01, 0.01, 0.01, 0.01, 0.01, 0.01, 0.01, 0.01, 0.01, 0.01]],
    [[1.9, 1.6, 1.35, 1.2, 1.1, 1.0, 0.95, 0.9, 0.85, 0.8, 0.78, 0.75, 0.72],
     [1.9, 1.1, 0.6, 0.38, 0.25, 0.14, 0.08, 0.06, 0.05, 0.04, 0.04, 0.04, 0.04],
     [1.9, 0.7, 0.2, 0.08, 0.04, 0.02, 0.02, 0.01, 0.01, 0.01, 0.01, 0.01, 0.01],
     [1.8, 0.4, 0.05, 0.02, 0.01, 0.01, 0.01, 0.01, 0.01, 0.01, 0.01, 0.01, 0.01],
     [1.9, 0.2, 0.02, 0.01, 0.01, 0.01, 0.01, 0.01, 0.01, 0.01, 0.01, 0.01, 0.01]],
    [[1.8, 1.5, 1.3, 1.2, 1.15, 1.09, 1.05, 1.02, 1.0, 0.97, 0.95, 0.92, 0.9],
     [1.8, 1.2, 0.7, 0.48, 0.35, 0.22, 0.15, 0.1, 0.08, 0.07, 0.06, 0.05, 0.05],
     [1.8, 0.9, 0.35, 0.16, 0.08, 0.04, 0.02, 0.01, 0.01, 0.01, 0.01, 0.01, 0.01],
     [1.8, 0.7, 0.2, 0.07, 0.03, 0.01, 0.01, 0.01, 0.01, 0.01, 0.01, 0.01, 0.01],
     [1.9, 0.3, 0.03, 0.01, 0.01, 0.01, 0.01, 0.01, 0.01, 0.01, 0.01, 0.01, 0.01]],
    [[1.87, 1.6, 1.45, 1.36, 1.3, 1.18, 1.1, 1.05, 1.0, 0.96, 0.93, 0.9, 0.87],
     [1.85, 1.3, 0.9, 0.7, 0.55, 0.4, 0.3, 0.24, 0.2, 0.2, 0.2, 0.2, 0.2],
     [1.8, 1.0, 0.45, 0.22, 0.1, 0.04, 0.02, 0.01, 0.01, 0.01, 0.01, 0.01, 0.01],
     [1.8, 0.8, 0.3, 0.12, 0.05, 0.02, 0.01, 0.01, 0.01, 0.01, 0.01, 0.01, 0.01],
     [1.9, 0.4, 0.05, 0.02, 0.01, 0.01, 0.01, 0.01, 0.01, 0.01, 0.01, 0.01, 0.01]],
    [[1.8, 1.55, 1.4, 1.32, 1.25, 1.16, 1.1, 1.06, 1.02, 0.99, 0.97, 0.95, 0.93],
     [1.8, 1.4, 1.0, 0.8, 0.65, 0.53, 0.45, 0.39, 0.35, 0.32, 0.3, 0.3, 0.3],
     [1.8, 1.1, 0.6, 0.35, 0.2, 0.09, 0.05, 0.03, 0.02, 0.02, 0.02, 0.02, 0.02],
     [1.8, 0.9, 0.35, 0.15, 0.06, 0.02, 0.01, 0.01, 0.01, 0.01, 0.01, 0.01, 0.01],
     [1.9, 0.6, 0.1, 0.04, 0.02, 0.01, 0.01, 0.01, 0.01, 0.01, 0.01, 0.01, 0.01]],
    [[1.6, 1.45, 1.3, 1.24, 1.2, 1.14, 1.1, 1.06, 1.03, 1.0, 0.98, 0.95, 0.95],
     [1.85, 1.4, 1.0, 0.82, 0.7, 0.58, 0.5, 0.45, 0.42, 0.39, 0.37, 0.35, 0.35],
     [1.8, 1.2, 0.7, 0.42, 0.25, 0.12, 0.06, 0.03, 0.02, 0.02, 0.02, 0.02, 0.02],
     [1.8, 0.9, 0.35, 0.15, 0.06, 0.02, 0.01, 0.01, 0.01, 0.01, 0.01, 0.01, 0.01],
     [1.9, 0.6, 0.1, 0.04, 0.02, 0.01, 0.01, 0.01, 0.01, 0.01, 0.01, 0.01, 0.01]],
    [[1.77, 1.55, 1.4, 1.3, 1.25, 1.19, 1.15, 1.12, 1.1, 1.09, 1.08, 1.07, 1.07],
     [1.8, 1.5, 1.2, 1.03, 0.9, 0.78, 0.7, 0.63, 0.58, 0.53, 0.5, 0.47, 0.47],
     [1.8, 1.2, 0.7, 0.42, 0.25, 0.1, 0.05, 0.03, 0.02, 0.02, 0.02, 0.02, 0.02],
     [1.77, 0.8, 0.2, 0.06, 0.02, 0.01, 0.01, 0.01, 0.01, 0.01, 0.01, 0.01, 0.01],
     [1.8, 0.5, 0.05, 0.02, 0.01, 0.01, 0.01, 0.01, 0.01, 0.01, 0.01, 0.01, 0.01]],
]

ALL_LOSSES = [LOSS_R100, LOSS_R80, LOSS_R60, LOSS_R40, LOSS_R20, LOSS_R0]

CAPTION = [
    "Figure 5: Training convergence of Llama3.1-8B on the Random / Long-Context Memorization Stress Test. The",
    "figure follows the same layout as Figure 4, with each subplot corresponding to a fixed length\u2013rank configuration.",
    "The curves show stable optimization behavior across random-token mixture settings, supporting the reliability of",
    "the subsequent accuracy comparisons.",
]
LINK_WORD = "4,"

# ---------------------------------------------------------------- figure
W, H = 1398, 1811
fig = plt.figure(figsize=(W / 100, H / 100), dpi=100)
fig.patch.set_facecolor("white")

gs = fig.add_gridspec(len(LENGTHS), len(RANKS), left=163.3 / W, right=1359 / W,
                      top=1 - 133.3 / H, bottom=1 - 1516.7 / H, wspace=0.125, hspace=0.152)
axes = [[None] * len(RANKS) for _ in LENGTHS]
for i in range(len(LENGTHS)):
    for j in range(len(RANKS)):
        kw = {}
        if i > 0 or j > 0:
            kw = dict(sharex=axes[0][0], sharey=axes[0][0])
        axes[i][j] = fig.add_subplot(gs[i, j], **kw)

for i, L in enumerate(LENGTHS):
    for j, r in enumerate(RANKS):
        ax = axes[i][j]
        for k, loss in enumerate(ALL_LOSSES):
            ax.plot(STEPS, loss[i][j], color=COLORS[k], lw=1.6, solid_joinstyle="round")
        ax.set_ylim(0, 9.3)
        ax.set_xticks(X_TICKS)
        ax.set_yticks(Y_TICKS)
        ax.yaxis.set_major_formatter(FormatStrFormatter("%.1f"))
        ax.grid(True, color="#e9e9e9", lw=0.8)
        ax.set_axisbelow(True)
        for sp in ax.spines.values():
            sp.set_color("#222222")
            sp.set_linewidth(0.9)
        ax.tick_params(direction="out", length=4, width=0.9, color="#333333",
                       labelsize=12.5, pad=4)
        if j != 0:
            ax.tick_params(labelleft=False)
        if i != len(LENGTHS) - 1:
            ax.tick_params(labelbottom=False)
        if i == 0:
            ax.set_title(f"$r = {r}$", fontsize=17, pad=6)
        if j == 0:
            ax.set_ylabel(f"$L = {L}$", fontsize=16.5, labelpad=7)

axes[0][0].set_xlim(-100, 2100)

handles = [Line2D([0], [0], color=c, lw=3) for c in COLORS]
fig.legend(handles, SERIES, loc="center", bbox_to_anchor=(690 / W, 1 - 48.3 / H), ncol=6,
           frameon=False, fontsize=15.3, handlelength=2.75, handletextpad=0.47,
           columnspacing=0.84)

fig.text(69 / W, 1 - 825 / H, "Training Loss", rotation=90, ha="center", va="center", fontsize=16)
fig.text(690 / W, 1 - 1610 / H, "Global Step", ha="center", va="center", fontsize=16)

# ---------------------------------------------------------------- caption (justified, Times-like)
renderer = fig.canvas.get_renderer()


def cap_props(fs):
    return FontProperties(family=["Liberation Serif", "DejaVu Serif"], size=fs)


def text_width(s, fs):
    t = fig.text(0, 0, s, fontproperties=cap_props(fs))
    w = t.get_window_extent(renderer).width
    t.remove()
    return w


x_left, x_right = 16.0, 1380.0
target = x_right - x_left
base = 20.0
fs = base * target / text_width(CAPTION[1], base)
baselines = [1681, 1717, 1752.5, 1788]
space_nat = text_width("a a", fs) - text_width("aa", fs)

for li, line in enumerate(CAPTION):
    words = line.split(" ")
    widths = [text_width(w, fs) for w in words]
    if li < len(CAPTION) - 1:
        gap = (target - sum(widths)) / (len(words) - 1)
    else:
        gap = space_nat
    x = x_left
    yb = 1 - baselines[li] / H
    for w, ww in zip(words, widths):
        if w == LINK_WORD:
            fig.text(x / W, yb, "4", fontproperties=cap_props(fs), color="#1a1a8c", va="baseline")
            w4 = text_width("4", fs)
            fig.text((x + w4) / W, yb, ",", fontproperties=cap_props(fs), color="black", va="baseline")
        else:
            fig.text(x / W, yb, w, fontproperties=cap_props(fs), color="black", va="baseline")
        x += ww + gap

fig.savefig("out.png", dpi=100, facecolor="white")
